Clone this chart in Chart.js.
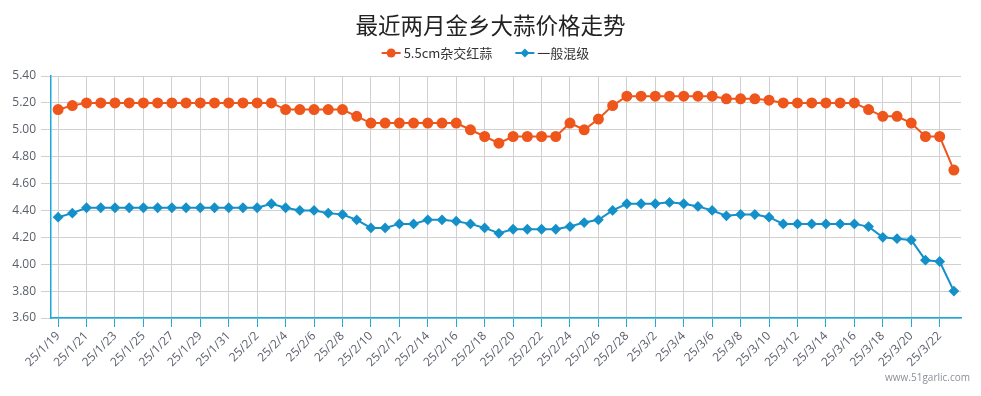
<!DOCTYPE html>
<html>
<head>
<meta charset="utf-8">
<script src="https://cdn.jsdelivr.net/npm/chart.js@4/dist/chart.umd.min.js"></script>
<style>
html,body{margin:0;padding:0;background:#fff;}
#wrap{position:relative;width:981px;height:396px;}
</style>
</head>
<body>
<div id="wrap"><canvas id="c" width="981" height="396"></canvas></div>
<script>
const categories = [
 '25/1/19','25/1/20','25/1/21','25/1/22','25/1/23','25/1/24','25/1/25','25/1/26','25/1/27','25/1/28','25/1/29','25/1/30','25/1/31',
 '25/2/1','25/2/2','25/2/3','25/2/4','25/2/5','25/2/6','25/2/7','25/2/8','25/2/9','25/2/10','25/2/11','25/2/12','25/2/13','25/2/14',
 '25/2/15','25/2/16','25/2/17','25/2/18','25/2/19','25/2/20','25/2/21','25/2/22','25/2/23','25/2/24','25/2/25','25/2/26','25/2/27','25/2/28',
 '25/3/1','25/3/2','25/3/3','25/3/4','25/3/5','25/3/6','25/3/7','25/3/8','25/3/9','25/3/10','25/3/11','25/3/12','25/3/13','25/3/14',
 '25/3/15','25/3/16','25/3/17','25/3/18','25/3/19','25/3/20','25/3/21','25/3/22','25/3/23'
];
const hybrid55 = [
 5.15,5.18,5.20,5.20,5.20,5.20,5.20,5.20,5.20,5.20,5.20,5.20,5.20,
 5.20,5.20,5.20,5.15,5.15,5.15,5.15,5.15,5.10,5.05,5.05,5.05,5.05,5.05,
 5.05,5.05,5.00,4.95,4.90,4.95,4.95,4.95,4.95,5.05,5.00,5.08,5.18,5.25,
 5.25,5.25,5.25,5.25,5.25,5.25,5.23,5.23,5.23,5.22,5.20,5.20,5.20,5.20,
 5.20,5.20,5.15,5.10,5.10,5.05,4.95,4.95,4.70
];
const mixed = [
 4.35,4.38,4.42,4.42,4.42,4.42,4.42,4.42,4.42,4.42,4.42,4.42,4.42,
 4.42,4.42,4.45,4.42,4.40,4.40,4.38,4.37,4.33,4.27,4.27,4.30,4.30,4.33,
 4.33,4.32,4.30,4.27,4.23,4.26,4.26,4.26,4.26,4.28,4.31,4.33,4.40,4.45,
 4.45,4.45,4.46,4.45,4.43,4.40,4.36,4.37,4.37,4.35,4.30,4.30,4.30,4.30,
 4.30,4.30,4.28,4.20,4.19,4.18,4.03,4.02,3.80
];
const seriesNames = ['5.5cm杂交红蒜','一般混级'];
const yTicks = [3.60,3.80,4.00,4.20,4.40,4.60,4.80,5.00,5.20,5.40];
const titleText = '最近两月金乡大蒜价格走势';
const watermark = 'www.51garlic.com';

const ORANGE = '#ee561c';
const BLUE = '#1590c9';
const AXIS = '#1ba8dc';
const FONT_CJK = '"Noto Sans CJK SC", "Open Sans", sans-serif';

function drawIcon(ctx, x, y, color, style){
  ctx.save();
  ctx.strokeStyle = color; ctx.fillStyle = color; ctx.lineWidth = 2;
  ctx.beginPath(); ctx.moveTo(x, y); ctx.lineTo(x + 19, y); ctx.stroke();
  ctx.beginPath();
  const cx = x + 9.5;
  if(style === 'circle'){ ctx.arc(cx, y, 4.5, 0, Math.PI*2); }
  else { ctx.moveTo(cx, y-4.5); ctx.lineTo(cx+4.5, y); ctx.lineTo(cx, y+4.5); ctx.lineTo(cx-4.5, y); ctx.closePath(); }
  ctx.fill();
  ctx.restore();
}

const legendPlugin = {
  id:'customLegend',
  afterDraw(chart){
    const ctx = chart.ctx;
    const ds = chart.data.datasets;
    ctx.save();
    ctx.font = '13px ' + FONT_CJK;
    ctx.textBaseline = 'middle';
    ctx.textAlign = 'left';
    const iconW = 19, iconGap = 3, itemGap = 23;
    const widths = ds.map(d => iconW + iconGap + ctx.measureText(d.label).width);
    const total = widths.reduce((a,b)=>a+b,0) + itemGap*(ds.length-1);
    let x = 485.5 - total/2;
    const y = 53;
    ds.forEach((d,i)=>{
      drawIcon(ctx, x, y, d.borderColor, d.pointStyle === 'circle' ? 'circle' : 'diamond');
      ctx.fillStyle = '#333';
      ctx.fillText(d.label, x + iconW + iconGap, y);
      x += widths[i] + itemGap;
    });
    ctx.restore();
  }
};

const watermarkPlugin = {
  id:'wm',
  afterDraw(chart){
    const ctx = chart.ctx;
    ctx.save();
    ctx.font = '10px "Open Sans", sans-serif';
    ctx.fillStyle = '#8a8f99';
    ctx.textAlign = 'right';
    ctx.textBaseline = 'middle';
    ctx.fillText(watermark, 970, 378);
    ctx.restore();
  }
};

new Chart(document.getElementById('c'), {
  type:'line',
  data:{
    labels: categories,
    datasets:[
      {label: seriesNames[0], data: hybrid55, borderColor: ORANGE, backgroundColor: ORANGE,
       borderWidth:2, pointStyle:'circle', pointRadius:4.5, pointHoverRadius:5, tension:0},
      {label: seriesNames[1], data: mixed, borderColor: BLUE, backgroundColor: BLUE,
       borderWidth:2, pointStyle:'rectRot', pointRadius:4, pointHoverRadius:5, tension:0}
    ]
  },
  options:{
    responsive:false,
    animation:false,
    layout:{padding:0},
    plugins:{
      title:{display:true, text:titleText, color:'#222',
        font:{family:FONT_CJK, size:22.5, weight:'normal'},
        padding:{top:11.5,bottom:37.5}},
      legend:{display:false},
      tooltip:{enabled:false}
    },
    scales:{
      x:{
        offset:true,
        border:{color:AXIS, width:1.5},
        grid:{color:'#d0d0d0', tickColor:AXIS, tickLength:9, offset:false, lineWidth:1},
        ticks:{autoSkip:false, minRotation:45, maxRotation:45, color:'#5a5f6b',
          font:{family:'"Open Sans", sans-serif', size:12}, padding:2},
        afterBuildTicks(scale){ scale.ticks = scale.ticks.filter((t,i)=>i%2===0); },
        afterFit(scale){ scale.height = 78; }
      },
      y:{
        min:3.6, max:5.4,
        border:{color:AXIS, width:1.5},
        grid:{color:'#d0d0d0', tickLength:10, lineWidth:1},
        ticks:{stepSize:0.2, color:'#5a5f6b', padding:5,
          font:{family:'"Open Sans", sans-serif', size:12},
          callback(v){ return Number(v).toFixed(2); }},
        afterBuildTicks(scale){ scale.ticks = yTicks.map(v=>({value:v})); },
        afterFit(scale){ scale.width = 51; }
      },
      yRight:{
        position:'right', display:true,
        border:{display:false}, grid:{display:false, drawTicks:false},
        ticks:{display:false},
        afterFit(scale){ scale.width = 20; }
      }
    }
  },
  plugins:[legendPlugin, watermarkPlugin]
});
</script>
</body>
</html>
